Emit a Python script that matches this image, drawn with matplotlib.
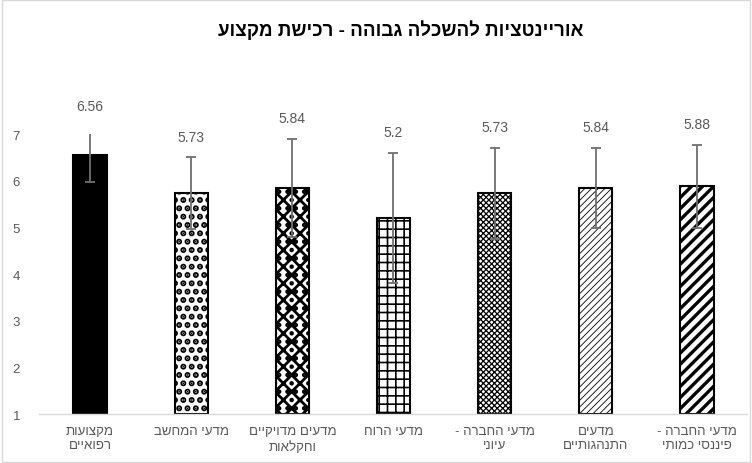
import matplotlib
matplotlib.use("Agg")
import matplotlib.pyplot as plt
from matplotlib.patches import Rectangle

plt.rcParams['font.family'] = ['Liberation Sans', 'DejaVu Sans']

title = "אוריינטציות להשכלה גבוהה - רכישת מקצוע"
categories = [
    "מקצועות\nרפואיים",
    "מדעי המחשב",
    "מדעים מדויקיים\nוחקלאות",
    "מדעי הרוח",
    "מדעי החברה -\nעיוני",
    "מדעים\nהתנהגותיים",
    "מדעי החברה -\nפיננסי כמותי",
]
means = [6.56, 5.73, 5.84, 5.2, 5.73, 5.84, 5.88]
errors = [0.59, 0.77, 1.05, 1.39, 0.97, 0.86, 0.89]
yticks = [1, 2, 3, 4, 5, 6, 7]

hatches = [None, '..', 'xx..', '++', 'xxxxxx', '/////', '///']
hatch_lw = [1.0, 3.0, 2.0, 1.2, 0.9, 0.6, 2.4]
faces = ['black', 'white', 'white', 'white', 'white', 'white', 'white']


def vis(s):
    """Hebrew text in visual order (matplotlib has no bidi)."""
    return "\n".join(line[::-1] for line in s.split("\n"))


fig = plt.figure(figsize=(7.52, 4.64), dpi=100)
fig.patches.append(Rectangle((0.002, 0.002), 0.996, 0.996, transform=fig.transFigure,
                             fill=False, edgecolor='#d9d9d9', linewidth=1))
ax = fig.add_axes([0.0525, 0.1056, 0.9415, 0.6034])

x = list(range(len(categories)))
for i, (m, h, lw, fc) in enumerate(zip(means, hatches, hatch_lw, faces)):
    with plt.rc_context({'hatch.linewidth': lw, 'hatch.color': 'black'}):
        b = ax.bar(x[i], m - 1, bottom=1, width=0.33, color=fc, edgecolor='black',
                   linewidth=1.5, hatch=h, zorder=2)
    for p in b:
        if hasattr(p, 'set_hatch_linewidth'):
            p.set_hatch_linewidth(lw)

ax.errorbar(x, means, yerr=errors, fmt='none', ecolor='#6f6f6f', elinewidth=1.3,
            capsize=3.5, capthick=1.3, zorder=3)

for xi, m, e in zip(x, means, errors):
    ax.annotate(f"{m:g}", (xi, m + e), xytext=(0, 15), textcoords='offset points',
                ha='center', va='center', fontsize=10, color='#595959',
                annotation_clip=False)

ax.set_xlim(-0.5, len(categories) - 0.5)
ax.set_ylim(1, 7)
ax.set_yticks(yticks)
ax.set_xticks(x)
ax.set_xticklabels([vis(c) for c in categories], fontsize=9.5, color='#595959',
                   linespacing=1.25)
ax.tick_params(axis='both', length=0, colors='#595959', labelsize=9.5)
ax.tick_params(axis='y', pad=14)
ax.tick_params(axis='x', pad=8)
for s in ['top', 'right', 'left']:
    ax.spines[s].set_visible(False)
ax.spines['bottom'].set_color('#d9d9d9')
ax.spines['bottom'].set_linewidth(1)

fig.text(401 / 752, 1 - 30 / 464, vis(title), ha='center', va='center',
         fontsize=13.5, fontweight='bold', color='black')

fig.savefig("out.png", dpi=100)
